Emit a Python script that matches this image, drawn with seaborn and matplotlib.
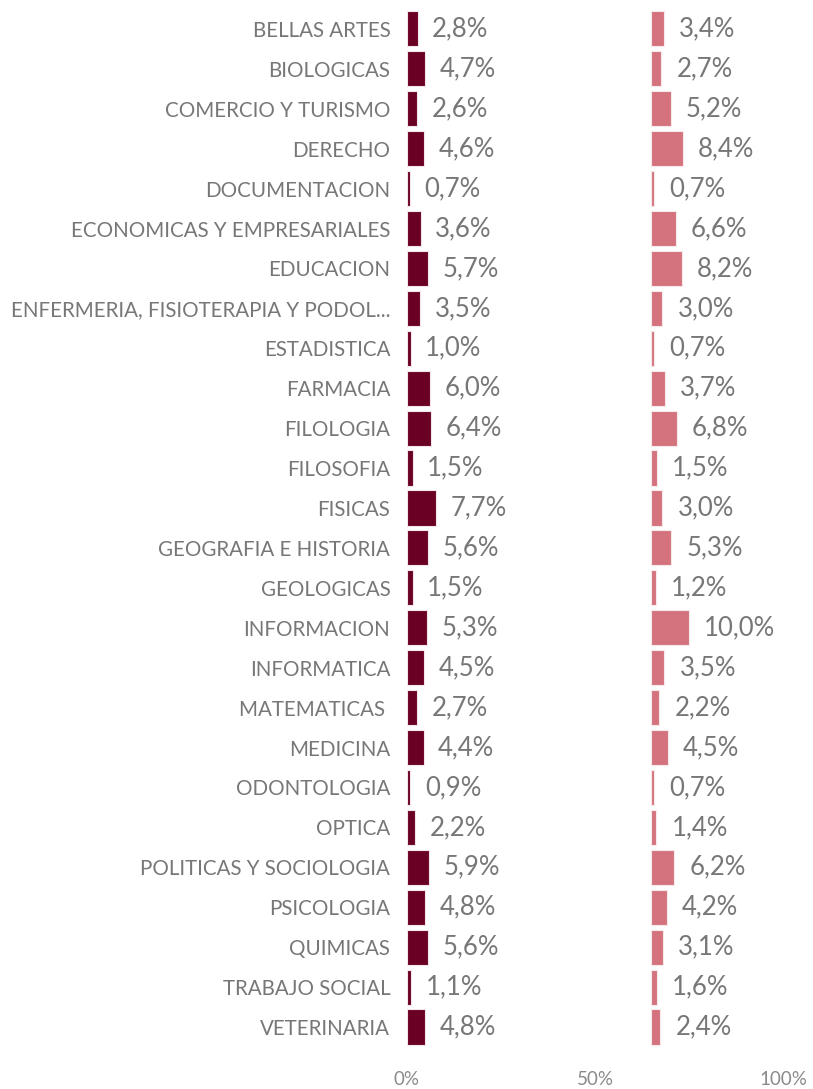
import matplotlib
matplotlib.use("Agg")
import matplotlib.pyplot as plt
import pandas as pd
import seaborn as sns

# ── Data ──────────────────────────────────────────────────────
categories = [
    "BELLAS ARTES", "BIOLOGICAS", "COMERCIO Y TURISMO", "DERECHO",
    "DOCUMENTACION", "ECONOMICAS Y EMPRESARIALES", "EDUCACION",
    "ENFERMERIA, FISIOTERAPIA Y PODOL...", "ESTADISTICA", "FARMACIA",
    "FILOLOGIA", "FILOSOFIA", "FISICAS", "GEOGRAFIA E HISTORIA",
    "GEOLOGICAS", "INFORMACION", "INFORMATICA", "MATEMATICAS ",
    "MEDICINA", "ODONTOLOGIA", "OPTICA", "POLITICAS Y SOCIOLOGIA",
    "PSICOLOGIA", "QUIMICAS", "TRABAJO SOCIAL", "VETERINARIA",
]
serie_a = [2.8, 4.7, 2.6, 4.6, 0.7, 3.6, 5.7, 3.5, 1.0, 6.0, 6.4, 1.5, 7.7,
           5.6, 1.5, 5.3, 4.5, 2.7, 4.4, 0.9, 2.2, 5.9, 4.8, 5.6, 1.1, 4.8]
serie_b = [3.4, 2.7, 5.2, 8.4, 0.7, 6.6, 8.2, 3.0, 0.7, 3.7, 6.8, 1.5, 3.0,
           5.3, 1.2, 10.0, 3.5, 2.2, 4.5, 0.7, 1.4, 6.2, 4.2, 3.1, 1.6, 2.4]
x_ticks = [0, 50, 100]
x_ticklabels = ["0%", "50%", "100%"]

# ── Style ─────────────────────────────────────────────────────
sns.set_style("white")
plt.rcParams["font.family"] = ["Lato", "DejaVu Sans"]
DARK = "#6A0023"
PINK = "#D4737E"
GREY = "#777777"
OFFSET = 64.9  # where the second column starts on the shared 0-100% scale

df = pd.DataFrame({"cat": categories, "a": serie_a, "b": serie_b})


def pct(v):
    return f"{v:.1f}%".replace(".", ",")


fig = plt.figure(figsize=(8.13, 10.89), dpi=100)
ax = fig.add_axes([0.5006, 0.0386, 0.4625, 0.9532])

sns.barplot(data=df, y="cat", x="a", orient="h", color=DARK, saturation=1,
            width=0.88, edgecolor="#f3e6e8", linewidth=0.8, ax=ax)
ax.bar_label(ax.containers[0], labels=[pct(v) for v in serie_a],
             padding=10.5, fontsize=18.5, color=GREY)

ax2 = ax.twiny()
sns.barplot(data=df, y="cat", x="b", orient="h", color=PINK, saturation=1,
            width=0.88, edgecolor="#f7e8ea", linewidth=0.8, ax=ax2)
ax2.bar_label(ax2.containers[0], labels=[pct(v) for v in serie_b],
              padding=11, fontsize=18.5, color=GREY)

ax.set_xlim(0, 100)
ax2.set_xlim(-OFFSET, 100 - OFFSET)
ax.set_ylim(len(categories) - 0.5, -0.5)

ax.set_xticks(x_ticks)
ax.set_xticklabels(x_ticklabels, fontsize=13.5, color="#8a8a8a")
ax.tick_params(axis="x", length=0, pad=17)
ax.tick_params(axis="y", length=0, pad=12)
for lbl in ax.get_yticklabels():
    lbl.set_fontsize(14.8)
    lbl.set_color(GREY)

ax2.set_xticks([])
for a in (ax, ax2):
    a.set_xlabel("")
    a.set_ylabel("")
    for s in a.spines.values():
        s.set_visible(False)

fig.savefig("out.png", dpi=100)
